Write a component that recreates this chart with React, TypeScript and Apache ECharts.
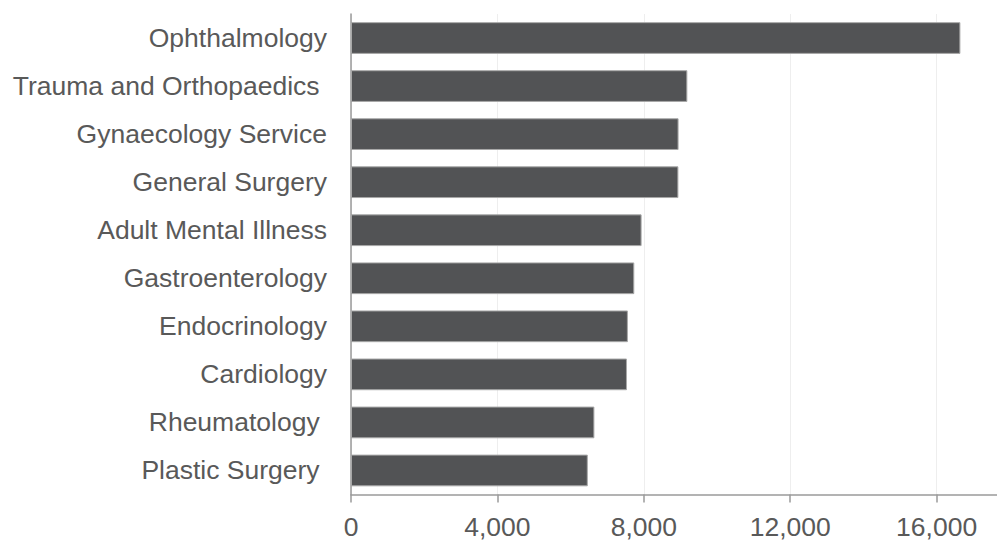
import React, { useEffect, useRef } from "react";
import * as echarts from "echarts";

const categories = [
  "Ophthalmology",
  "Trauma and Orthopaedics ",
  "Gynaecology Service",
  "General Surgery",
  "Adult Mental Illness",
  "Gastroenterology",
  "Endocrinology",
  "Cardiology",
  "Rheumatology ",
  "Plastic Surgery ",
];
const values = [16650, 9190, 8950, 8945, 7940, 7740, 7565, 7540, 6650, 6470];
const xTicks = [0, 4000, 8000, 12000, 16000];
const xMax = 17650;

export default function App() {
  const ref = useRef<HTMLDivElement>(null);
  useEffect(() => {
    if (!ref.current) return;
    const chart = echarts.init(ref.current, null, { renderer: "svg" });
    chart.setOption({
      animation: false,
      backgroundColor: "#ffffff",
      grid: { left: 351, right: 0, top: 14, bottom: 45, containLabel: false },
      xAxis: {
        type: "value",
        min: 0,
        max: xMax,
        interval: 4000,
        axisLine: { show: true, lineStyle: { color: "#9a9a9a", width: 1.5 } },
        axisTick: { show: true, length: 8, lineStyle: { color: "#9a9a9a", width: 1.5 } },
        splitLine: { show: true, lineStyle: { color: "#eeeeee", width: 1 } },
        axisLabel: {
          show: true,
          margin: 22,
          fontSize: 26.5,
          lineHeight: 20,
          color: "#595959",
          fontFamily: "Liberation Sans, Arial, sans-serif",
          showMaxLabel: false,
          formatter: (v: number) =>
            xTicks.includes(v) ? v.toLocaleString("en-US") : "",
        },
      },
      yAxis: {
        type: "category",
        data: categories,
        inverse: true,
        axisLine: { show: true, lineStyle: { color: "#9a9a9a", width: 1.5 } },
        axisTick: { show: false },
        splitLine: { show: false },
        axisLabel: {
          margin: 24,
          fontSize: 26.5,
          color: "#595959",
          fontFamily: "Liberation Sans, Arial, sans-serif",
        },
      },
      series: [
        {
          type: "bar",
          data: values,
          barCategoryGap: "34%",
          itemStyle: { color: "#525355", borderColor: "#a8a8a8", borderWidth: 1 },
        },
      ],
    });
    return () => chart.dispose();
  }, []);
  return (
    <div
      ref={ref}
      style={{ position: "fixed", left: 0, top: 0, width: 997, height: 540 }}
    />
  );
}
